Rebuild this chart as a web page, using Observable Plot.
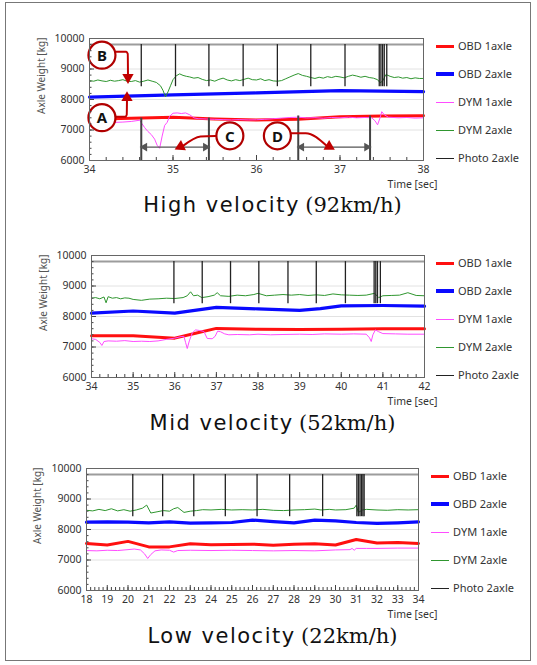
<!DOCTYPE html>
<html><head><meta charset="utf-8">
<script src="https://cdn.jsdelivr.net/npm/d3@7"></script>
<script src="https://cdn.jsdelivr.net/npm/@observablehq/plot@0.6"></script>
<style>
html,body{margin:0;padding:0;background:#fff}
body{width:537px;height:665px;position:relative;overflow:hidden;font-family:"Noto Sans",sans-serif}
#frame{position:absolute;left:5px;top:2px;width:526px;height:659px;border:1px solid #777;box-sizing:border-box}
.ylab{position:absolute;font-size:10px;color:#555;transform:rotate(-90deg);transform-origin:0 0;white-space:nowrap;line-height:12px}
.leg{position:absolute;font-size:11px;color:#333;white-space:nowrap;line-height:14px}
.legline{position:absolute}
.title{position:absolute;left:0;width:545px;text-align:center;font-size:21px;color:#111;white-space:nowrap;line-height:26px}
.title .s{font-family:"DejaVu Sans",sans-serif;letter-spacing:1.5px}
.title .r{font-family:"DejaVu Serif",serif}
</style></head><body>
<div id="frame"></div>
<script>
// ---------- data ----------
const seriesNames = ["OBD 1axle","OBD 2axle","DYM 1axle","DYM 2axle","Photo 2axle"];
const yTicks = [6000,7000,8000,9000,10000];
const photoHigh = 9800, photoLow = 8420;

// High velocity (92 km/h)
const hiTicks = [34,35,36,37,38];
const hiObd1 = [[34.0,7350],[34.5,7385],[35.0,7415],[35.5,7360],[36.0,7330],[36.5,7350],[37.0,7435],[37.5,7462],[38.0,7470]];
const hiObd2 = [[34.0,8080],[35.0,8150],[36.0,8215],[37.0,8288],[37.5,8272],[38.0,8258]];
const hiDym1 = [[34.00,7210],[34.10,7200],[34.20,7230],[34.30,7250],[34.40,7260],[34.50,7280],[34.60,7320],[34.63,7200],[34.66,7080],[34.70,6950],[34.74,6850],[34.78,6700],[34.81,6500],[34.84,6400],[34.87,6800],[34.90,7150],[34.93,7250],[34.96,7450],[35.00,7550],[35.05,7560],[35.10,7540],[35.15,7560],[35.20,7500],[35.25,7400],[35.30,7370],[35.40,7360],[35.50,7350],[35.60,7340],[35.70,7330],[35.80,7340],[35.90,7330],[36.00,7335],[36.10,7350],[36.20,7370],[36.30,7390],[36.40,7410],[36.50,7420],[36.60,7395],[36.70,7405],[36.80,7385],[36.90,7410],[37.00,7400],[37.10,7420],[37.20,7400],[37.30,7410],[37.38,7400],[37.42,7300],[37.45,7170],[37.48,7400],[37.50,7600],[37.53,7500],[37.58,7420],[37.70,7400],[37.80,7410],[37.90,7390],[38.00,7400]];
const hiDym2 = [[34.00,8620],[34.05,8600],[34.10,8640],[34.15,8610],[34.20,8590],[34.25,8630],[34.30,8600],[34.35,8620],[34.40,8650],[34.45,8600],[34.50,8590],[34.55,8620],[34.60,8570],[34.65,8600],[34.70,8640],[34.75,8600],[34.80,8560],[34.85,8450],[34.88,8300],[34.91,8090],[34.94,8250],[34.97,8450],[35.00,8650],[35.04,8780],[35.08,8840],[35.12,8790],[35.16,8760],[35.20,8740],[35.25,8700],[35.30,8720],[35.35,8660],[35.40,8620],[35.45,8640],[35.50,8600],[35.55,8660],[35.60,8700],[35.65,8640],[35.70,8610],[35.75,8650],[35.80,8620],[35.85,8660],[35.90,8700],[35.95,8650],[36.00,8640],[36.05,8680],[36.10,8620],[36.15,8650],[36.20,8610],[36.25,8600],[36.30,8620],[36.35,8680],[36.40,8740],[36.45,8800],[36.50,8850],[36.55,8790],[36.60,8760],[36.65,8720],[36.70,8690],[36.75,8730],[36.80,8700],[36.85,8750],[36.90,8720],[36.95,8760],[37.00,8740],[37.05,8710],[37.10,8760],[37.15,8800],[37.20,8770],[37.25,8730],[37.30,8760],[37.35,8720],[37.40,8700],[37.45,8650],[37.48,8550],[37.51,8600],[37.55,8820],[37.60,8760],[37.65,8720],[37.70,8740],[37.75,8700],[37.80,8720],[37.85,8680],[37.90,8710],[37.95,8690],[38.00,8690]];
const hiPhoto = [34.62,35.03,35.43,35.84,36.25,36.65,37.06,37.47,37.49,37.51,37.53,37.56];

// Mid velocity (52 km/h)
const midTicks = [34,35,36,37,38,39,40,41,42];
const midObd1 = [[34.0,7370],[35.0,7370],[35.5,7330],[36.0,7290],[36.5,7450],[37.0,7610],[38.0,7580],[39.0,7570],[40.0,7580],[41.0,7600],[42.0,7600]];
const midObd2 = [[34.0,8110],[35.0,8180],[36.0,8110],[37.0,8300],[38.0,8250],[39.0,8200],[39.5,8260],[40.0,8350],[41.0,8360],[42.0,8340]];
const midDym1 = [[34.0,7270],[34.1,7250],[34.2,7150],[34.25,7050],[34.3,7180],[34.4,7200],[34.6,7190],[34.8,7210],[35.0,7180],[35.2,7190],[35.4,7180],[35.6,7200],[35.8,7250],[36.0,7290],[36.15,7340],[36.22,7350],[36.26,7150],[36.30,6950],[36.35,7200],[36.42,7460],[36.5,7560],[36.6,7540],[36.7,7510],[36.78,7280],[36.9,7270],[36.97,7350],[37.03,7520],[37.1,7500],[37.2,7430],[37.3,7400],[37.5,7410],[37.8,7400],[38.0,7420],[38.3,7400],[38.6,7410],[39.0,7420],[39.3,7410],[39.6,7430],[40.0,7420],[40.3,7430],[40.6,7420],[40.68,7300],[40.72,7180],[40.76,7400],[40.82,7560],[40.9,7500],[41.0,7440],[41.3,7430],[41.6,7420],[42.0,7420]];
const midDym2 = [[34.0,8600],[34.1,8620],[34.2,8580],[34.3,8640],[34.35,8450],[34.4,8650],[34.5,8600],[34.6,8620],[34.7,8580],[34.8,8610],[34.9,8600],[35.0,8560],[35.2,8530],[35.4,8570],[35.6,8580],[35.8,8600],[36.0,8590],[36.2,8620],[36.3,8680],[36.38,8810],[36.45,8680],[36.55,8700],[36.65,8620],[36.8,8650],[36.95,8700],[37.02,8780],[37.1,8680],[37.3,8660],[37.5,8700],[37.7,8680],[37.9,8720],[38.0,8760],[38.2,8680],[38.4,8700],[38.6,8720],[38.8,8700],[39.0,8720],[39.2,8690],[39.4,8710],[39.6,8690],[39.8,8740],[40.0,8710],[40.2,8700],[40.4,8690],[40.6,8700],[40.8,8760],[40.9,8620],[41.0,8680],[41.2,8690],[41.4,8700],[41.6,8780],[41.8,8690],[42.0,8680]];
const midPhoto = [35.98,36.66,37.34,38.02,38.72,39.40,40.10,40.79,40.83,40.87,40.94];

// Low velocity (22 km/h)
const lowTicks = [18,19,20,21,22,23,24,25,26,27,28,29,30,31,32,33,34];
const lowObd1 = [[18,7540],[19,7490],[20,7610],[20.5,7520],[21,7430],[22,7430],[23,7530],[24,7500],[25,7510],[26,7520],[27,7480],[28,7520],[29,7530],[30,7490],[31,7670],[32,7560],[33,7570],[34,7540]];
const lowObd2 = [[18,8240],[19,8250],[20,8240],[21,8220],[22,8250],[23,8210],[24,8220],[25,8230],[26,8310],[27,8260],[28,8220],[29,8310],[30,8280],[31,8230],[32,8200],[33,8220],[34,8250]];
const lowDym1 = [[18,7310],[18.5,7300],[19,7320],[19.5,7310],[20,7340],[20.3,7360],[20.6,7330],[20.8,7200],[20.95,7050],[21.1,7180],[21.3,7300],[21.6,7330],[22.0,7320],[22.2,7260],[22.4,7310],[23,7320],[24,7310],[25,7320],[26,7310],[27,7300],[28,7310],[29,7300],[30,7330],[30.7,7340],[30.8,7380],[30.9,7320],[31.0,7380],[31.5,7380],[32,7380],[33,7390],[34,7390]];
const lowDym2 = [[18,8630],[18.3,8610],[18.6,8660],[18.9,8620],[19.2,8680],[19.5,8610],[19.8,8650],[20.1,8600],[20.4,8640],[20.7,8700],[20.9,8800],[21.1,8540],[21.4,8580],[21.7,8620],[22.0,8600],[22.2,8680],[22.4,8720],[22.7,8560],[23.0,8600],[23.3,8620],[23.6,8650],[24.0,8640],[24.5,8660],[25,8640],[25.5,8650],[26,8640],[26.5,8660],[27,8630],[27.5,8620],[28,8640],[28.5,8650],[29,8670],[29.3,8640],[29.7,8660],[30,8640],[30.5,8650],[30.9,8700],[31.0,8800],[31.1,8560],[31.3,8640],[31.5,8660],[32,8640],[32.5,8630],[33,8650],[33.5,8640],[34,8650]];
const lowPhoto = [20.23,21.67,23.17,24.69,26.22,27.79,29.38,31.03,31.10,31.18,31.25,31.32,31.38];

// annotations (top panel), in data units
const annoLabel = ["A","B","C","D"];
const annoTime = [34.149,34.149,35.681,36.25];
const annoWeight = [7405,9454,6810,6810];
const arrowPaths = [
  [[34.309,7438],[34.43,7438],[34.446,7500],[34.449,7990]],
  [[34.309,9562],[34.44,9562],[34.458,9500],[34.461,8790]],
  [[35.509,6807],[35.33,6790],[35.12,6480]],
  [[36.41,6895],[36.59,6895],[36.84,6480]]
];
const arrowTipTime = [34.449,34.461,35.09,36.87];
const arrowTipWeight = [8060,8725,6458,6458];
const arrowTipAngle = [0,180,-116,120];
const spanStart = [34.62,36.50];
const spanEnd = [35.43,37.36];
const spanTop = [7390,7460];
const spanLevel = 6440;

// ---------- styles ----------
const colors = ["#ff1010","#0a0aff","#ff4cff","#2f962f","#222"];
const widths = [3,3.2,1,1,1];

function panel(cfg){
  const [x0,x1] = [cfg.ticks[0], cfg.ticks[cfg.ticks.length-1]];
  const xMinor = d3.range(Math.round((x1-x0)*5)+1).map(i => x0 + i*0.2);
  const yMinor = d3.range(21).map(i => 6000 + i*200);
  const marks = [
    Plot.gridY([7000,8000,9000], {stroke:"#e2e2e2", strokeOpacity:1}),
    Plot.ruleY([photoHigh], {stroke:"#9c9c9c", strokeWidth:2}),
    Plot.line(cfg.obd1, {x:d=>d[0], y:d=>d[1], stroke:colors[0], strokeWidth:widths[0]}),
    Plot.line(cfg.obd2, {x:d=>d[0], y:d=>d[1], stroke:colors[1], strokeWidth:widths[1]}),
    Plot.line(cfg.dym1, {x:d=>d[0], y:d=>d[1], stroke:colors[2], strokeWidth:widths[2]}),
    Plot.line(cfg.dym2, {x:d=>d[0], y:d=>d[1], stroke:colors[3], strokeWidth:widths[3]}),
    Plot.ruleX(cfg.photo, {x:d=>d, y1:photoLow, y2:photoHigh, stroke:colors[4], strokeWidth:1.3}),
  ];
  if (cfg.anno) {
    const idx = [0,1];
    marks.push(
      Plot.ruleX(idx, {x:i=>spanStart[i], y1:6000, y2:i=>spanTop[i], stroke:"#444", strokeWidth:2}),
      Plot.ruleX(idx, {x:i=>spanEnd[i], y1:6000, y2:i=>spanTop[i], stroke:"#444", strokeWidth:2}),
      Plot.ruleY(idx, {y:spanLevel, x1:i=>spanStart[i]+0.03, x2:i=>spanEnd[i]-0.03, stroke:"#555", strokeWidth:1.3}),
      Plot.dot(idx, {x:i=>spanStart[i]+0.04, y:spanLevel, symbol:"triangle", rotate:-90, r:3.2, fill:"#555"}),
      Plot.dot(idx, {x:i=>spanEnd[i]-0.04, y:spanLevel, symbol:"triangle", rotate:90, r:3.2, fill:"#555"}),
    );
    arrowPaths.forEach(p => marks.push(Plot.line(p, {x:d=>d[0], y:d=>d[1], stroke:"#c00000", strokeWidth:2, curve:"monotone-x"})));
    marks.push(
      Plot.dot(d3.range(4), {x:i=>arrowTipTime[i], y:i=>arrowTipWeight[i], symbol:"triangle", rotate:i=>arrowTipAngle[i], r:4.2, fill:"#c00000"}),
      Plot.dot(d3.range(4), {x:i=>annoTime[i], y:i=>annoWeight[i], r:13.5, fill:"white", stroke:"#b00000", strokeWidth:2.2}),
      Plot.text(d3.range(4), {x:i=>annoTime[i], y:i=>annoWeight[i], text:i=>annoLabel[i], fontSize:15, fontWeight:"bold", fill:"#111", dy:1})
    );
  }
  marks.push(
    Plot.axisY(yTicks, {tickSize:0, tickPadding:5, label:null, fill:"#333", tickFormat:d=>String(d)}),
    Plot.axisY(yTicks, {tickSize:5, dx:5, text:null, label:null, stroke:"#444"}),
    Plot.axisY(yMinor, {tickSize:2.5, dx:2.5, text:null, label:null, stroke:"#444"}),
    Plot.axisX(cfg.ticks, {tickSize:0, tickPadding:5, label:"Time [sec]", labelAnchor:"right", labelArrow:"none", labelOffset:27, fill:"#333", tickFormat:d=>String(d)}),
    Plot.axisX(cfg.ticks, {tickSize:5, dy:-5, text:null, label:null, stroke:"#444"}),
    Plot.axisX(xMinor, {tickSize:3, dy:-3, text:null, label:null, stroke:"#444"}),
    Plot.frame({stroke:"#666"})
  );
  const svg = Plot.plot({
    width: cfg.width, height: 198,
    marginLeft: cfg.ml, marginRight: cfg.width - cfg.xr, marginTop: 38, marginBottom: 38,
    x: {domain:[x0,x1]}, y: {domain:[6000,10000]},
    style: {position:"absolute", left:"0px", top:cfg.top+"px", fontFamily:"'Noto Sans', sans-serif", fontSize:"10.5px", color:"#333", background:"transparent", overflow:"visible"},
    marks
  });
  document.body.appendChild(svg);

  // y label
  const yl = document.createElement("div");
  yl.className = "ylab"; yl.textContent = "Axle Weight [kg]";
  yl.style.left = cfg.ylx + "px"; yl.style.top = (cfg.top + 114) + "px";
  document.body.appendChild(yl);

  // legend
  seriesNames.forEach((name, i) => {
    const y = cfg.top + 46 + i*28;
    const ln = document.createElement("div");
    ln.className = "legline";
    ln.style.left = cfg.legx + "px"; ln.style.width = "18px";
    ln.style.top = (y - widths[i]/2) + "px"; ln.style.height = widths[i] + "px";
    ln.style.background = colors[i];
    document.body.appendChild(ln);
    const tx = document.createElement("div");
    tx.className = "leg"; tx.textContent = name;
    tx.style.left = (cfg.legx + 22) + "px"; tx.style.top = (y - 7.5) + "px";
    document.body.appendChild(tx);
  });

  // title
  const t = document.createElement("div");
  t.className = "title";
  t.innerHTML = `<span class="s">${cfg.title[0]}</span> <span class="r">${cfg.title[1]}</span>`;
  t.style.top = cfg.titleTop + "px";
  document.body.appendChild(t);
}

panel({top:0, width:440, ml:89, xr:423, ticks:hiTicks, obd1:hiObd1, obd2:hiObd2, dym1:hiDym1, dym2:hiDym2, photo:hiPhoto, anno:true, ylx:35, legx:436, title:["High velocity","(92km/h)"], titleTop:191});
panel({top:217, width:440, ml:91, xr:424, ticks:midTicks, obd1:midObd1, obd2:midObd2, dym1:midDym1, dym2:midDym2, photo:midPhoto, anno:false, ylx:37, legx:436, title:["Mid velocity","(52km/h)"], titleTop:409});
panel({top:430, width:440, ml:86, xr:418, ticks:lowTicks, obd1:lowObd1, obd2:lowObd2, dym1:lowDym1, dym2:lowDym2, photo:lowPhoto, anno:false, ylx:31, legx:431, title:["Low velocity","(22km/h)"], titleTop:622});
</script>
</body></html>
